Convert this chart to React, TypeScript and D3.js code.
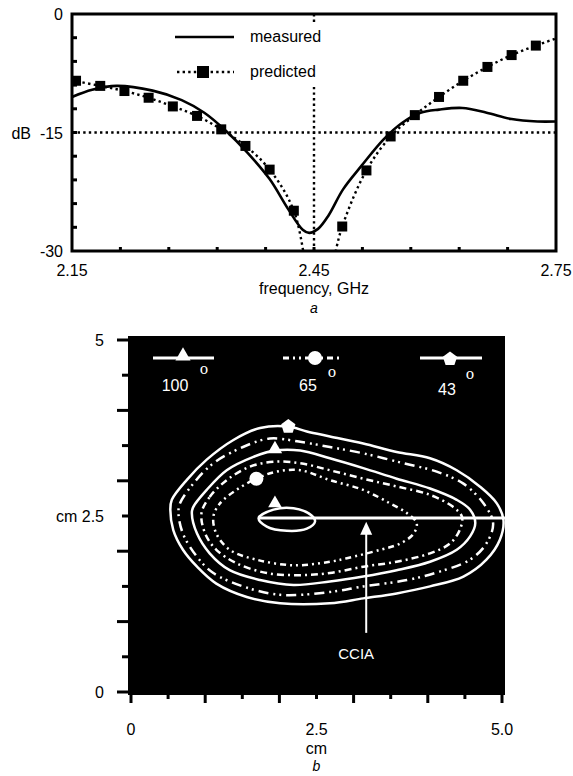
import React from "react";
import * as d3 from "d3";

// ---------- Panel a data ----------
const measuredFreq = [2.15, 2.175, 2.205, 2.25, 2.286, 2.314, 2.341, 2.368, 2.395, 2.418, 2.436, 2.444, 2.455, 2.468, 2.486, 2.509, 2.536, 2.559, 2.582, 2.605, 2.634, 2.664, 2.695, 2.727, 2.75];
const measuredDb = [-10.5, -9.6, -9.1, -9.7, -10.9, -12.5, -14.8, -17.6, -20.9, -24.7, -27.3, -27.7, -27.2, -25.5, -22.2, -19.2, -15.9, -13.8, -12.5, -12.1, -11.9, -12.5, -13.3, -13.6, -13.6];
const predictedFreq = [2.155, 2.185, 2.215, 2.245, 2.275, 2.305, 2.335, 2.365, 2.395, 2.425, 2.455, 2.485, 2.515, 2.545, 2.575, 2.605, 2.635, 2.665, 2.695, 2.725];
const predictedDb = [-8.45, -9.1, -9.75, -10.6, -11.7, -12.9, -14.6, -16.7, -19.7, -24.9, -38, -26.9, -19.8, -15.5, -12.8, -10.5, -8.45, -6.7, -5.2, -4.0];
const predictedEdgeFreq = [2.15, 2.75];
const predictedEdgeDb = [-8.2, -3.1];
const aYTickLabels = [0, -15, -30];
const aXTickLabels = ["2.15", "2.45", "2.75"];
const aYMinorTicks = [-3, -6, -9, -12, -15, -18, -21, -24, -27];
const aXMinorTicks = [2.21, 2.27, 2.33, 2.39, 2.45, 2.51, 2.57, 2.63, 2.69];
const aRefDb = -15;
const aRefFreq = 2.45;

// ---------- Panel b data (cm) ----------
const contour43: [number, number][] = [[0.53,2.59],[0.55,2.73],[0.75,3.01],[1.02,3.30],[1.38,3.58],[1.74,3.75],[2.12,3.77],[2.37,3.70],[2.68,3.63],[3.13,3.53],[3.58,3.41],[4.03,3.32],[4.39,3.15],[4.70,2.92],[4.93,2.68],[5.02,2.44],[4.97,2.16],[4.79,1.88],[4.48,1.64],[4.03,1.50],[3.58,1.40],[3.13,1.33],[2.68,1.26],[2.01,1.26],[1.56,1.35],[1.15,1.54],[0.89,1.78],[0.70,2.02],[0.57,2.30]];
const contourB: [number, number][] = [[0.64,2.54],[0.66,2.68],[0.84,2.96],[1.11,3.25],[1.51,3.48],[1.87,3.60],[2.30,3.55],[2.68,3.48],[3.13,3.39],[3.67,3.25],[4.12,3.13],[4.48,2.96],[4.75,2.68],[4.88,2.40],[4.79,2.11],[4.57,1.88],[4.16,1.71],[3.72,1.59],[3.13,1.50],[2.68,1.42],[2.01,1.38],[1.51,1.50],[1.11,1.69],[0.89,1.92],[0.70,2.25]];
const contourC: [number, number][] = [[0.82,2.54],[0.84,2.63],[1.02,2.87],[1.29,3.15],[1.65,3.34],[1.94,3.43],[2.28,3.43],[2.68,3.32],[3.13,3.18],[3.58,3.03],[4.03,2.89],[4.39,2.73],[4.57,2.59],[4.64,2.40],[4.57,2.21],[4.39,2.02],[4.03,1.85],[3.58,1.73],[3.13,1.64],[2.68,1.57],[2.19,1.52],[1.74,1.59],[1.33,1.73],[1.06,1.97],[0.89,2.25]];
const contourD: [number, number][] = [[0.95,2.54],[1.06,2.77],[1.29,3.01],[1.60,3.20],[1.92,3.27],[2.28,3.25],[2.68,3.15],[3.13,3.03],[3.58,2.92],[4.03,2.80],[4.34,2.63],[4.46,2.49],[4.43,2.30],[4.30,2.11],[4.03,1.97],[3.58,1.85],[3.13,1.78],[2.68,1.69],[2.28,1.66],[1.83,1.69],[1.42,1.83],[1.15,2.02],[1.00,2.25]];
const contour65: [number, number][] = [[1.11,2.49],[1.20,2.68],[1.42,2.87],[1.69,3.03],[1.96,3.13],[2.28,3.15],[2.68,3.01],[3.13,2.87],[3.49,2.68],[3.72,2.54],[3.85,2.40],[3.81,2.25],[3.63,2.11],[3.36,2.02],[2.91,1.90],[2.68,1.85],[2.19,1.80],[1.69,1.88],[1.33,2.02],[1.15,2.25]];
const contour100: [number, number][] = [[1.72,2.47],[1.92,2.59],[2.19,2.61],[2.43,2.51],[2.48,2.42],[2.37,2.32],[2.10,2.29],[1.83,2.35]];
const pentagonAt: [number, number] = [2.12, 3.77];
const triangleCAt: [number, number] = [1.94, 3.45];
const circleAt: [number, number] = [1.69, 3.03];
const triangleAt: [number, number] = [1.94, 2.68];
const axisLineY = 2.47;
const axisLineX = [1.72, 5.04];
const ccia = { x: 3.17, y0: 0.84, y1: 2.42 };
const bYTickLabels = [{ v: 5, t: "5" }, { v: 2.5, t: "cm 2.5" }, { v: 0, t: "0" }];
const bXTickLabels = [{ v: 0, t: "0" }, { v: 2.5, t: "2.5" }, { v: 5, t: "5.0" }];
const bTicks = [0, 0.5, 1, 1.5, 2, 2.5, 3, 3.5, 4, 4.5, 5];
const legendAngles = ["100", "65", "43"];

const FONT = "'Liberation Sans', Arial, Helvetica, sans-serif";

function pentagon(cx: number, cy: number, r: number) {
  const pts = d3.range(5).map((k) => {
    const a = (-90 + 72 * k) * Math.PI / 180;
    return [cx + r * Math.cos(a), cy + r * Math.sin(a)];
  });
  return "M" + pts.map((p) => p.join(",")).join("L") + "Z";
}

export default function App() {
  // Panel a scales
  const xA = d3.scaleLinear().domain([2.15, 2.75]).range([72, 556]);
  const yA = d3.scaleLinear().domain([-30, 0]).range([251, 14]);
  const lineA = d3.line<[number, number]>().x((d) => xA(d[0])).y((d) => yA(d[1])).curve(d3.curveCatmullRom.alpha(0.5));
  const measured: [number, number][] = measuredFreq.map((f, i) => [f, measuredDb[i]]);
  const predictedMarkers: [number, number][] = predictedFreq.map((f, i) => [f, predictedDb[i]]);
  const predictedLine: [number, number][] = [
    [predictedEdgeFreq[0], predictedEdgeDb[0]],
    ...predictedMarkers,
    [predictedEdgeFreq[1], predictedEdgeDb[1]],
  ];

  // Panel b scales
  const xB = d3.scaleLinear().domain([0, 5]).range([131, 502]);
  const yB = d3.scaleLinear().domain([0, 5]).range([692, 340]);
  const closed = d3.line<[number, number]>().x((d) => xB(d[0])).y((d) => yB(d[1])).curve(d3.curveCatmullRomClosed.alpha(0.5));
  const bx0 = xB(0) - 3, bx1 = xB(5) + 3, by0 = yB(5) - 4, by1 = yB(0) + 3;

  const contours = [
    { d: contour43, dash: "none" },
    { d: contourB, dash: "10 5 2 4 2 5" },
    { d: contourC, dash: "none" },
    { d: contourD, dash: "7 4 2 4" },
    { d: contour65, dash: "2 4 2 4 6 4" },
    { d: contour100, dash: "none" },
  ];

  const legendItems = [
    { x0: 153, x1: 214, mx: 183, dash: "none", marker: "tri", lx: 175, ly: 391, ox: 204, oy: 374 },
    { x0: 283, x1: 343, mx: 315, dash: "6 4 2 4 2 4", marker: "circ", lx: 308, ly: 391, ox: 332, oy: 377 },
    { x0: 420, x1: 482, mx: 450, dash: "none", marker: "pent", lx: 447, ly: 395, ox: 470, oy: 379 },
  ];
  const legY = 358;

  return (
    <svg width={573} height={776} style={{ position: "absolute", left: 0, top: 0, background: "#fff" }} fontFamily={FONT}>
      <defs>
        <clipPath id="clipA">
          <rect x={xA(2.15)} y={yA(0)} width={xA(2.75) - xA(2.15)} height={yA(-30) - yA(0)} />
        </clipPath>
        <clipPath id="clipB">
          <rect x={bx0} y={by0} width={bx1 - bx0} height={by1 - by0} />
        </clipPath>
      </defs>

      {/* ---------- Panel a ---------- */}
      <g clipPath="url(#clipA)">
        <line x1={xA(2.15)} x2={xA(2.75)} y1={yA(aRefDb)} y2={yA(aRefDb)} stroke="#000" strokeWidth={2.4} strokeDasharray="2.4 3.2" />
        <line x1={xA(aRefFreq)} x2={xA(aRefFreq)} y1={yA(0)} y2={yA(-30)} stroke="#000" strokeWidth={2.4} strokeDasharray="2.4 3.2" />
        <path d={lineA(predictedLine) || ""} fill="none" stroke="#000" strokeWidth={2.4} strokeDasharray="2.4 3.2" />
        <path d={lineA(measured) || ""} fill="none" stroke="#000" strokeWidth={2.6} />
        {predictedMarkers.map((p, i) => (
          <rect key={i} x={xA(p[0]) - 5} y={yA(p[1]) - 5} width={10} height={10} fill="#000" />
        ))}
      </g>
      {/* legend a */}
      <rect x={165} y={25} width={170} height={62} fill="#fff" />
      <line x1={175} x2={234} y1={37} y2={37} stroke="#000" strokeWidth={2.6} />
      <text x={250} y={42} fontSize={16}>measured</text>
      <line x1={177} x2={234} y1={72} y2={72} stroke="#000" strokeWidth={2.4} strokeDasharray="2.4 3.2" />
      <rect x={197} y={66} width={12} height={12} fill="#000" />
      <text x={250} y={77} fontSize={16}>predicted</text>
      {/* ticks a */}
      {aYMinorTicks.map((t) => (
        <line key={"ya" + t} x1={xA(2.15)} x2={xA(2.15) + 5} y1={yA(t)} y2={yA(t)} stroke="#000" strokeWidth={3} />
      ))}
      {aXMinorTicks.map((t) => (
        <line key={"xa" + t} x1={xA(t)} x2={xA(t)} y1={yA(-30)} y2={yA(-30) - 4} stroke="#000" strokeWidth={3} />
      ))}
      <rect x={xA(2.15)} y={yA(0)} width={xA(2.75) - xA(2.15)} height={yA(-30) - yA(0)} fill="none" stroke="#000" strokeWidth={3} />
      {aYTickLabels.map((v) => (
        <text key={"yl" + v} x={63} y={yA(v) + 6} fontSize={16} textAnchor="end">{String(v)}</text>
      ))}
      <text x={31} y={yA(-15) + 6} fontSize={16} textAnchor="end">dB</text>
      {aXTickLabels.map((t) => (
        <text key={"xl" + t} x={xA(+t)} y={276} fontSize={16} textAnchor="middle">{t}</text>
      ))}
      <text x={xA(2.45)} y={294} fontSize={16} textAnchor="middle">frequency, GHz</text>
      <text x={xA(2.45)} y={313} fontSize={14} textAnchor="middle" fontStyle="italic">a</text>

      {/* ---------- Panel b ---------- */}
      <rect x={bx0} y={by0} width={bx1 - bx0} height={by1 - by0} fill="#000" />
      <g clipPath="url(#clipB)">
        {contours.map((c, i) => (
          <path key={i} d={closed(c.d) || ""} fill="none" stroke="#fff" strokeWidth={2.5} strokeDasharray={c.dash} strokeLinejoin="round" />
        ))}
        <line x1={xB(axisLineX[0])} x2={xB(axisLineX[1])} y1={yB(axisLineY)} y2={yB(axisLineY)} stroke="#fff" strokeWidth={3} />
        <line x1={xB(ccia.x)} x2={xB(ccia.x)} y1={yB(ccia.y0)} y2={yB(ccia.y1) + 8} stroke="#fff" strokeWidth={2} />
        <path d={`M${xB(ccia.x)},${yB(ccia.y1)} L${xB(ccia.x) - 6},${yB(ccia.y1) + 13} L${xB(ccia.x) + 6},${yB(ccia.y1) + 13} Z`} fill="#fff" />
        <path d={pentagon(xB(pentagonAt[0]), yB(pentagonAt[1]), 7.5)} fill="#fff" />
        <path d={d3.symbol(d3.symbolTriangle, 90)() || ""} transform={`translate(${xB(triangleCAt[0])},${yB(triangleCAt[1])})`} fill="#fff" />
        <circle cx={xB(circleAt[0])} cy={yB(circleAt[1])} r={7} fill="#fff" />
        <path d={d3.symbol(d3.symbolTriangle, 80)() || ""} transform={`translate(${xB(triangleAt[0])},${yB(triangleAt[1])})`} fill="#fff" />
        {legendItems.map((it, i) => (
          <g key={"lg" + i}>
            <line x1={it.x0} x2={it.x1} y1={legY} y2={legY} stroke="#fff" strokeWidth={3} strokeDasharray={it.dash} />
            {it.marker === "tri" && (
              <path d={d3.symbol(d3.symbolTriangle, 100)() || ""} transform={`translate(${it.mx},${legY - 2})`} fill="#fff" />
            )}
            {it.marker === "circ" && <circle cx={it.mx} cy={legY} r={7} fill="#fff" />}
            {it.marker === "pent" && <path d={pentagon(it.mx, legY + 1, 7.5)} fill="#fff" />}
            <text x={it.lx} y={it.ly} fontSize={16} fill="#fff" textAnchor="middle">{legendAngles[i]}</text>
            <text x={it.ox} y={it.oy} fontSize={14} fill="#ffffff" textAnchor="middle" fontFamily="'DejaVu Serif', serif">o</text>
          </g>
        ))}
      </g>
      <text x={xB(ccia.x) - 10} y={659} fontSize={15} fill="#fff" textAnchor="middle">CCIA</text>
      {/* ticks b */}
      {bTicks.map((t, i) => (
        <line key={"yb" + t} x1={bx0} x2={bx0 - (i % 2 === 0 ? 11 : 6)} y1={yB(t)} y2={yB(t)} stroke="#000" strokeWidth={3} />
      ))}
      {bTicks.map((t, i) => (
        <line key={"xb" + t} x1={xB(t)} x2={xB(t)} y1={by1} y2={by1 + (i % 2 === 0 ? 8 : 4)} stroke="#000" strokeWidth={3} />
      ))}
      {bYTickLabels.map((l) => (
        <text key={"ybl" + l.v} x={104} y={yB(l.v) + 6} fontSize={16} textAnchor="end">{l.t}</text>
      ))}
      {bXTickLabels.map((l) => (
        <text key={"xbl" + l.v} x={xB(l.v)} y={735} fontSize={16} textAnchor="middle">{l.t}</text>
      ))}
      <text x={xB(2.5)} y={754} fontSize={16} textAnchor="middle">cm</text>
      <text x={xB(2.5)} y={771} fontSize={14} textAnchor="middle" fontStyle="italic">b</text>
    </svg>
  );
}
